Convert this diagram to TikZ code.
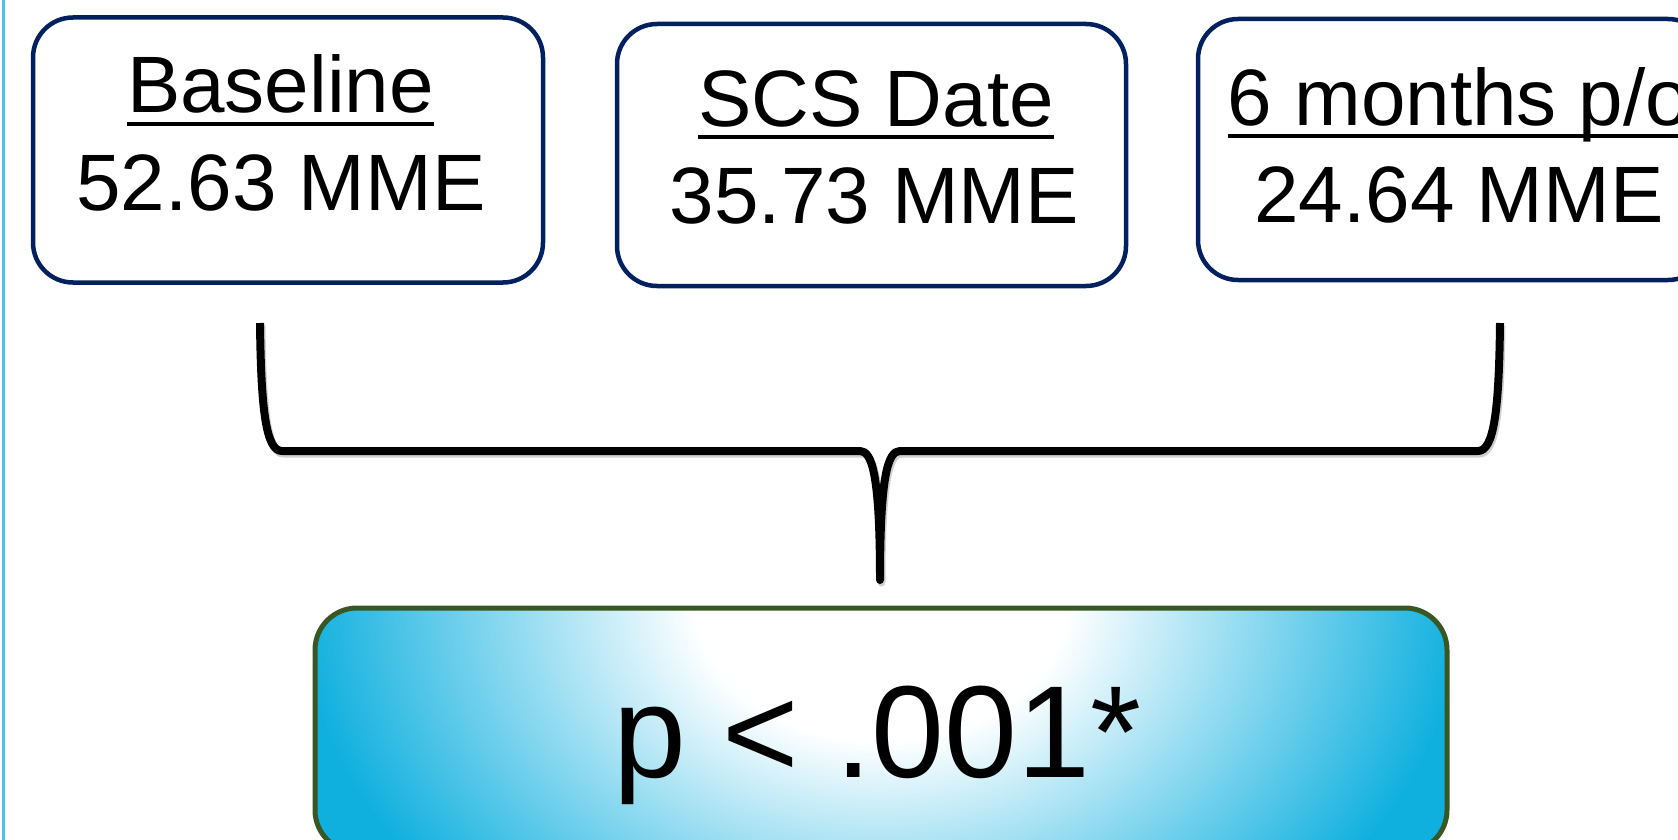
\documentclass[tikz,border=0pt]{standalone}
\usepackage{fontspec}
\setmainfont{Liberation Sans}
\definecolor{navy}{RGB}{0,32,96}
\definecolor{pgreen}{RGB}{56,87,35}
\definecolor{pcyan}{RGB}{16,176,222}
\definecolor{sidebar}{RGB}{80,190,240}
\pgfdeclareradialshading{pshade}{\pgfpointorigin}{color(0bp)=(white); color(8bp)=(white); color(25bp)=(pcyan); color(50bp)=(pcyan)}
\begin{document}
\begin{tikzpicture}[x=1pt,y=-1pt,
  mbox/.style={draw=navy, line width=4.5pt, rounded corners=40pt, fill=white, inner sep=0pt},
  ttl/.style={anchor=base, inner sep=0pt, font=\fontsize{80}{96}\selectfont},
  uline/.style={line width=4pt},
  pbox/.style={draw=pgreen, line width=5pt, rounded corners=42pt, inner sep=0pt},
  bracket/.style={line width=8pt, line join=round}]
\useasboundingbox (0,0) rectangle (1678,840);
\clip (0,0) rectangle (1678,840);
\fill[white] (0,0) rectangle (1678,840);
\fill[sidebar] (1.5,0) rectangle (5,840);

% boxes
\node[mbox, minimum width=510pt, minimum height=265pt] (box1) at (288,150) {};
\node[ttl] (h1) at (280.5,112.7) {Baseline};
\draw[uline] ([yshift=-11pt]h1.base west) -- ([yshift=-11pt]h1.base east);
\node[ttl] (v1) at (281,210) {52.63 MME};

\node[mbox, minimum width=509pt, minimum height=262pt] (box2) at (871.5,155) {};
\node[ttl] (h2) at (876,126.8) {SCS Date};
\draw[uline] ([yshift=-10.5pt]h2.base west) -- ([yshift=-10.5pt]h2.base east);
\node[ttl] (v2) at (874.5,223.8) {35.73 MME};

\node[mbox, minimum width=510pt, minimum height=261pt] (box3) at (1453,149.5) {};
\node[ttl] (h3) at (1459,126) {6 months p/o};
\draw[uline] ([yshift=-10.5pt]h3.base west) -- ([yshift=-10.5pt]h3.base east);
\node[ttl] (v3) at (1459,222) {24.64 MME};

% result box
\node[pbox, minimum width=1132pt, minimum height=244pt,
  path picture={\shade[shading=pshade]
     ([xshift=-580pt,yshift=448pt]path picture bounding box.north) rectangle
     ([xshift=580pt,yshift=-432pt]path picture bounding box.north);}]
  (pv) at (881,730) {};
\node[anchor=base, inner sep=0pt, font=\fontsize{131}{157}\selectfont] (pt) at (877.5,777) {p < .001*};

% bracket
\coordinate (bl) at (260,323);
\coordinate (br) at (1500,323);
\coordinate (bt) at (880,580);
\draw[bracket, black!18, transform canvas={xshift=1.5pt,yshift=-2.5pt}]
  (bl) .. controls (261,410) and (266,451) .. (282,451) -- (860,451)
  .. controls (872,451) and (880,475) .. (bt)
  .. controls (880,475) and (888,451) .. (900,451) -- (1478,451)
  .. controls (1494,451) and (1499,410) .. (br);
\draw[bracket]
  (bl) .. controls (261,410) and (266,451) .. (282,451) -- (860,451)
  .. controls (872,451) and (880,475) .. (bt)
  .. controls (880,475) and (888,451) .. (900,451) -- (1478,451)
  .. controls (1494,451) and (1499,410) .. (br);
\end{tikzpicture}
\end{document}
